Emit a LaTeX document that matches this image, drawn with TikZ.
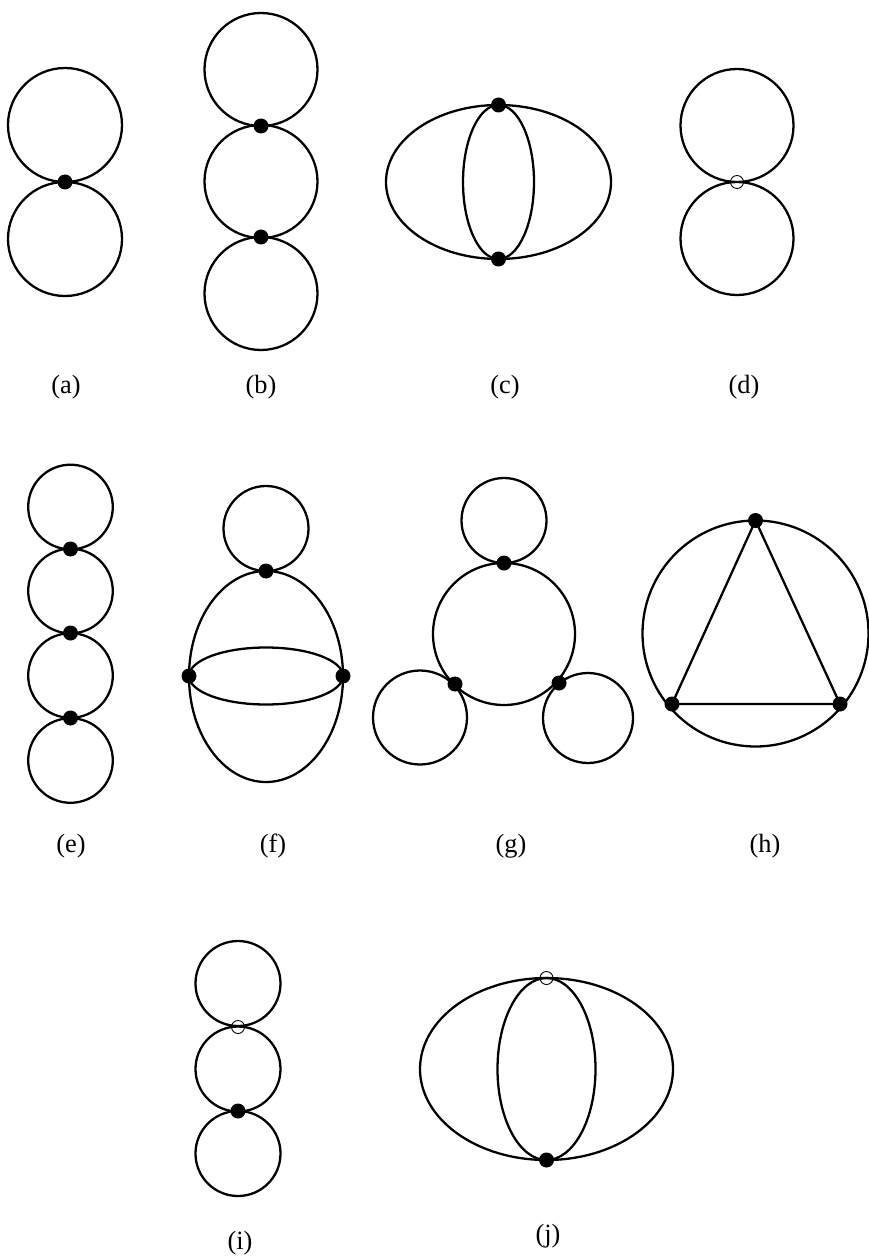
\documentclass[tikz,border=0pt]{standalone}
\usepackage{fontspec}
\setmainfont{Liberation Serif}
\usetikzlibrary{positioning}

\begin{document}
\begin{tikzpicture}[
  x=0.02cm, y=-0.02cm,
  line/.style={line width=1.3pt},
  vtx/.style={circle, fill=black, inner sep=0pt, minimum size=0.3cm},
  ovtx/.style={circle, draw, line width=0.5pt, inner sep=0pt, minimum size=0.26cm},
  lbl/.style={font=\fontsize{15}{18}\selectfont}
]
\useasboundingbox (0,0) rectangle (868,1256);

% (a) two loops
\draw[line] (65,125) circle[radius=57] (65,239) circle[radius=57];
\node[vtx] (a1) at (65,182) {};
\node[lbl] (la) at (66,387) {(a)};

% (b) three loops
\foreach \cy in {69.5,181.5,293.5}
  \draw[line] (261,\cy) circle[radius=56.5];
\node[vtx] (b1) at (261,126) {};
\node[vtx] (b2) at (261,237) {};
\node[lbl] (lb) at (261,387) {(b)};

% (c) sunset
\draw[line] (498.5,182) ellipse[x radius=112.5, y radius=77];
\draw[line] (498.5,182) ellipse[x radius=35.5, y radius=77];
\node[vtx] (c1) at (498.5,105) {};
\node[vtx] (c2) at (498.5,259) {};
\node[lbl] (lc) at (505,387) {(c)};

% (d) two loops, open vertex
\draw[line] (737,125.5) circle[radius=56.5] (737,238.5) circle[radius=56.5];
\node[ovtx] (d1) at (737,182) {};
\node[lbl] (ld) at (744,387) {(d)};

% (e) four loops
\foreach \cy in {507,591,675.5,760.5}
  \draw[line] (70.5,\cy) circle[radius=42.3];
\foreach \vy [count=\i] in {549,633,718}
  \node[vtx] (e\i) at (70.5,\vy) {};
\node[lbl] (le) at (71,846) {(e)};

% (f) loop on top of sunset
\draw[line] (266,528.5) circle[radius=42.5];
\draw[line] (266,676.5) ellipse[x radius=77, y radius=105.5];
\draw[line] (266,676) ellipse[x radius=77, y radius=28.5];
\node[vtx] (f1) at (266,571) {};
\node[vtx] (f2) at (189,676) {};
\node[vtx] (f3) at (343,676) {};
\node[lbl] (lf) at (273,846) {(f)};

% (g) ring with three loops
\draw[line] (504,634) circle[radius=71];
\draw[line] (504,520.5) circle[radius=42.5];
\draw[line] (420,717.5) circle[radius=47];
\draw[line] (588,718) circle[radius=45];
\node[vtx] (g1) at (504,563) {};
\node[vtx] (g2) at (455,684) {};
\node[vtx] (g3) at (559,683) {};
\node[lbl] (lg) at (511,846) {(g)};

% (h) triangle in circle
\draw[line] (755.5,633.5) circle[radius=113];
\node[vtx] (h1) at (755.5,520.5) {};
\node[vtx] (h2) at (672,704) {};
\node[vtx] (h3) at (840,704) {};
\draw[line] (h1.center) -- (h2.center) -- (h3.center) -- cycle;
\node[lbl] (lh) at (765,846) {(h)};

% (i) three loops, open vertex
\foreach \cy in {983.5,1069,1153.5}
  \draw[line] (238,\cy) circle[radius=42.5];
\node[ovtx] (i1) at (238,1027) {};
\node[vtx] (i2) at (238,1111) {};
\node[lbl] (li) at (240,1243) {(i)};

% (j) sunset, open vertex
\draw[line] (546.5,1069) ellipse[x radius=126.5, y radius=91];
\draw[line] (546.5,1069) ellipse[x radius=49, y radius=91];
\node[ovtx] (j1) at (546.5,978) {};
\node[vtx] (j2) at (546.5,1160) {};
\node[lbl] (lj) at (548,1236) {(j)};

\end{tikzpicture}
\end{document}
